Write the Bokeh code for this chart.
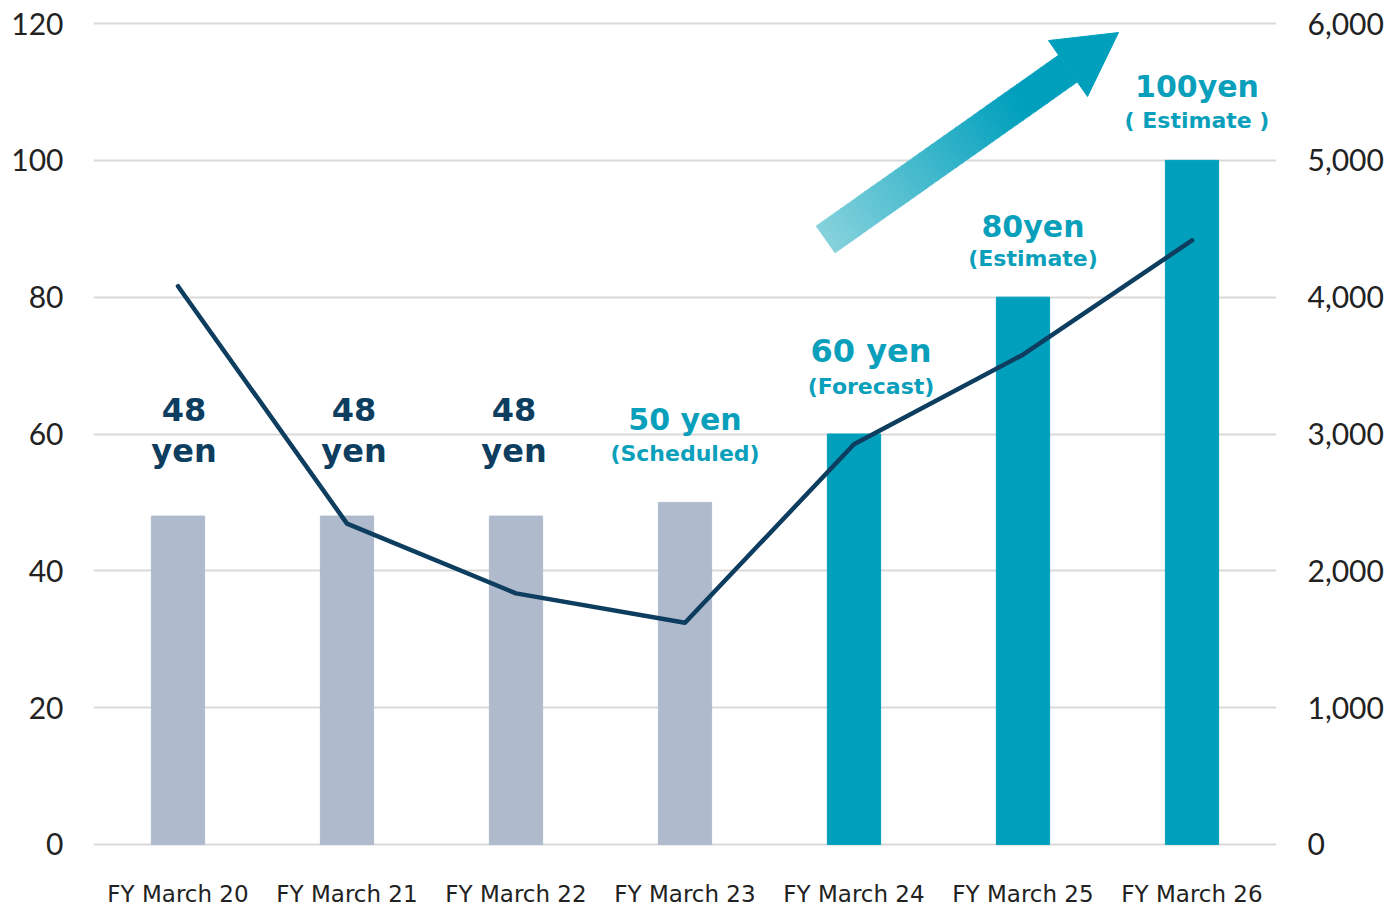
from bokeh.plotting import figure
from bokeh.models import Range1d, LinearAxis, FixedTicker, NumeralTickFormatter, ColumnDataSource
from bokeh.core.properties import value
from bokeh.embed import file_html
from bokeh.resources import INLINE
import math

# ---- data ----
categories = ["FY March 20", "FY March 21", "FY March 22", "FY March 23",
              "FY March 24", "FY March 25", "FY March 26"]
dividend = [48, 48, 48, 50, 60, 80, 100]            # left axis (yen)
line_values = [4080, 2345, 1835, 1620, 2925, 3580, 4415]  # right axis
label_top = ["48", "48", "48", "50 yen", "60 yen", "80yen", "100yen"]
label_bottom = ["yen", "yen", "yen", "(Scheduled)", "(Forecast)", "(Estimate)", "( Estimate )"]
left_ticks = [0, 20, 40, 60, 80, 100, 120]
right_ticks = [0, 1000, 2000, 3000, 4000, 5000, 6000]

# ---- styles ----
GRAY = "#afbbcc"
TEAL = "#00a0bc"
TEAL_TXT = "#0aa0bb"
NAVY = "#0d3d5f"
bar_colors = [GRAY, GRAY, GRAY, GRAY, TEAL, TEAL, TEAL]
txt_colors = [NAVY, NAVY, NAVY, TEAL_TXT, TEAL_TXT, TEAL_TXT, TEAL_TXT]
top_sizes = ["32px", "32px", "32px", "30px", "32px", "30px", "30px"]
bot_sizes = ["32px", "32px", "32px", "22px", "22px", "22px", "22px"]
top_y = [63.6, 63.6, 63.6, 62.1, 72.2, 90.4, 110.8]
bot_y = [57.5, 57.5, 57.5, 57.1, 67.0, 85.7, 105.8]
x_off = [6, 7, -2, 0, 17, 10, 5]

PAD = 0.3  # small range padding so the top/bottom gridlines are drawn
p = figure(x_range=categories, y_range=Range1d(-PAD, 120 + PAD),
           frame_width=1183, frame_height=825,
           min_border_left=93, min_border_right=113, min_border_top=21, min_border_bottom=59,
           output_backend="svg", toolbar_location=None, outline_line_color=None)
p.background_fill_color = "white"
p.border_fill_color = "white"
p.extra_y_ranges = {"right": Range1d(-PAD * 50, 6000 + PAD * 50),
                    "py": Range1d(844 + PAD * 821 / 120, 23 - PAD * 821 / 120)}

# axes
p.yaxis.ticker = FixedTicker(ticks=left_ticks)
for ax in [p.yaxis[0], p.xaxis[0]]:
    ax.axis_line_color = None
    ax.major_tick_line_color = None
    ax.minor_tick_line_color = None
p.yaxis.major_label_text_font = "Lato"
p.yaxis.major_label_text_font_size = "30px"
p.yaxis.major_label_text_color = "#222222"
p.yaxis.major_label_standoff = 24
p.xaxis.major_label_text_font = "DejaVu Sans"
p.xaxis.major_label_text_font_size = "23px"
p.xaxis.major_label_text_color = "#222222"
p.xaxis.major_label_standoff = 28

ry = LinearAxis(y_range_name="right", ticker=FixedTicker(ticks=right_ticks),
                formatter=NumeralTickFormatter(format="0,0"))
ry.axis_line_color = None
ry.major_tick_line_color = None
ry.minor_tick_line_color = None
ry.major_label_text_font = "Lato"
ry.major_label_text_font_size = "30px"
ry.major_label_text_color = "#222222"
ry.major_label_standoff = 25
p.add_layout(ry, "right")

p.xgrid.grid_line_color = None
p.ygrid.grid_line_color = "#d9d9d9"
p.ygrid.grid_line_width = 2
p.ygrid.ticker = FixedTicker(ticks=left_ticks)

# bars
src = ColumnDataSource(dict(cat=categories, val=dividend, color=bar_colors,
                            top=label_top, bot=label_bottom, tc=txt_colors,
                            ts=top_sizes, bs=bot_sizes, ty=top_y, by=bot_y, xo=x_off))
p.vbar(x="cat", top="val", width=0.315, color="color", source=src)

# line
p.line(categories, line_values, y_range_name="right", line_color=NAVY,
       line_width=4.5, line_join="round", line_cap="round")

# labels
p.text(x="cat", y="ty", text="top", text_color="tc", text_font_size="ts",
       text_font=value("DejaVu Sans"), text_font_style="bold", text_align="center",
       text_baseline="alphabetic", x_offset="xo", source=src)
p.text(x="cat", y="by", text="bot", text_color="tc", text_font_size="bs",
       text_font=value("DejaVu Sans"), text_font_style="bold", text_align="center",
       text_baseline="alphabetic", x_offset="xo", source=src)

# decorative gradient arrow: x in categorical synthetic units, y in pixel-like range
PX0, PXW = 93.0, 1183.0 / 7.0
def sx(px):
    return (px - PX0) / PXW

tail = (825.0, 239.0)
base = (1067.5, 68.0)
dx, dy = base[0] - tail[0], base[1] - tail[1]
L = math.hypot(dx, dy)
ux, uy = dx / L, dy / L
nx, ny = -uy, ux
hw = 16.5
c0 = (0x86, 0xd2, 0xdd)
c1 = (0x00, 0xa0, 0xbc)
N = 40
xs, ys, cols = [], [], []
for i in range(N):
    t0, t1 = i / N, min((i + 1) / N + 0.003, 1.0)
    ax0, ay0 = tail[0] + ux * L * t0, tail[1] + uy * L * t0
    ax1, ay1 = tail[0] + ux * L * t1, tail[1] + uy * L * t1
    xs.append([sx(ax0 + nx * hw), sx(ax1 + nx * hw), sx(ax1 - nx * hw), sx(ax0 - nx * hw)])
    ys.append([ay0 + ny * hw, ay1 + ny * hw, ay1 - ny * hw, ay0 - ny * hw])
    f = min((i + 0.5) / N / 0.8, 1.0)
    c = tuple(int(round(c0[k] + (c1[k] - c0[k]) * f)) for k in range(3))
    cols.append("#%02x%02x%02x" % c)
p.patches(xs, ys, fill_color=cols, line_color=cols, line_width=0.5, y_range_name="py")
p.patch([sx(1048.0), sx(1118.0), sx(1087.0)], [40.0, 32.0, 96.0],
        fill_color=TEAL, line_color=TEAL, y_range_name="py")

open("out.html", "w").write(file_html(p, INLINE))
